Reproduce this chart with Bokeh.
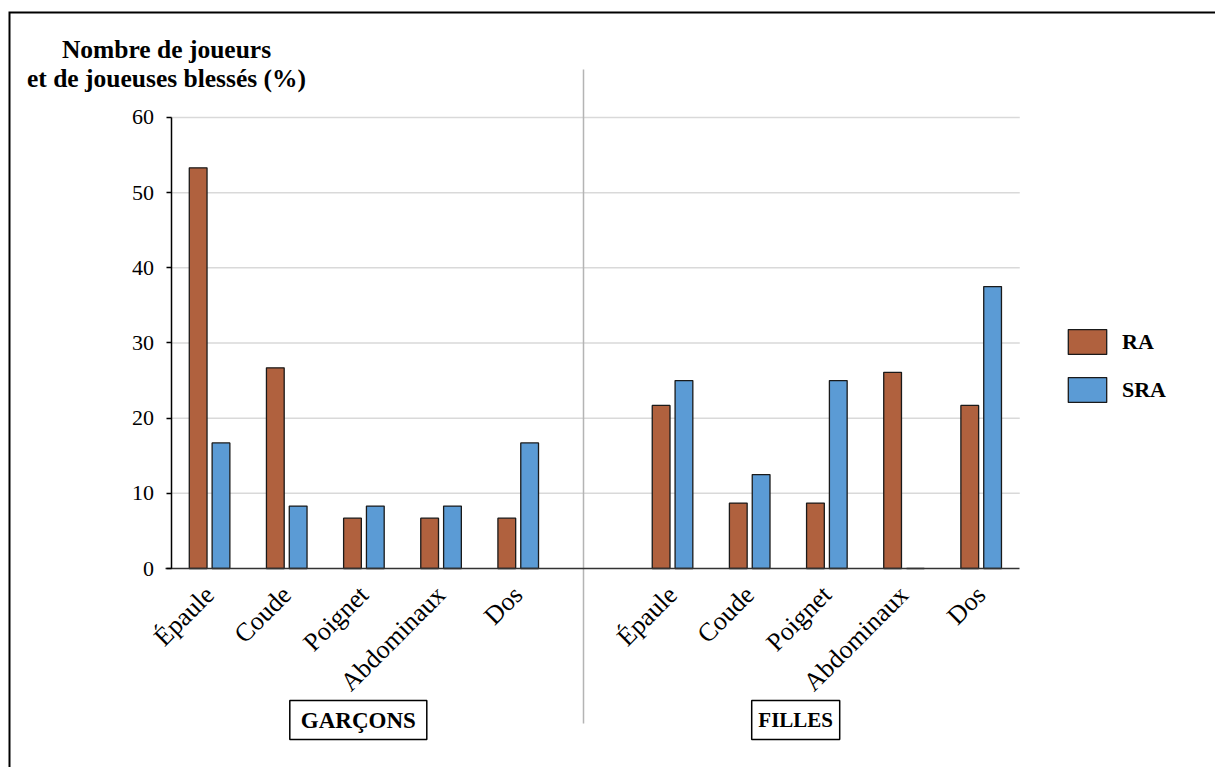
import numpy as np
from bokeh.plotting import figure
from bokeh.models import (Range1d, LinearAxis, FixedTicker, Legend,
                          LegendItem, ColumnDataSource)
from bokeh.core.properties import value
from bokeh.embed import file_html
from bokeh.resources import INLINE

# ---------------- data ----------------
groups = ["GARÇONS", "FILLES"]
parts = ["Épaule", "Coude", "Poignet", "Abdominaux", "Dos"]
series = ["RA", "SRA"]
ra_garcons = [53.3, 26.7, 6.7, 6.7, 6.7]
sra_garcons = [16.7, 8.3, 8.3, 8.3, 16.7]
ra_filles = [21.7, 8.7, 8.7, 26.1, 21.7]
sra_filles = [25.0, 12.5, 25.0, 0.0, 37.5]
y_ticks = [0, 10, 20, 30, 40, 50, 60]
title_lines = ["Nombre de joueurs", "et de joueuses blessés (%)"]

# ---------------- layout ----------------
ORG = 0                # page offset of the canvas
W, H = 1215, 767
PXU = 77.16            # px per category slot
PYU = 7.517            # px per percent
PX0 = 170.5 + 0.5 * PXU - ORG   # canvas px of slot 0 centre
PY0 = 568 - ORG                 # canvas px of y = 0

def dx(page_x):
    return (page_x - ORG - PX0) / PXU

def dy(page_y):
    return (PY0 - (page_y - ORG)) / PYU

FONT = value("Liberation Serif")
colors = ["#B0613E", "#5B9BD5"]

p = figure(width=W, height=H,
           x_range=Range1d(-PX0 / PXU, (W - PX0) / PXU),
           y_range=Range1d(-(H - PY0) / PYU, PY0 / PYU),
           output_backend="svg", toolbar_location=None,
           x_axis_type=None, y_axis_type=None,
           min_border=0, outline_line_color=None)
p.background_fill_color = "white"
p.border_fill_color = "white"

# category slots: garçons 0..4, gap at 5, filles 6..10
slots = list(range(0, 5)) + list(range(6, 11))
labels = parts + parts
ra_vals = ra_garcons + ra_filles
sra_vals = sra_garcons + sra_filles

# page border (top and left visible, right/bottom off the page)
p.quad(left=[dx(9)], right=[dx(1300)], top=[dy(12)], bottom=[dy(850)],
       fill_color=None, line_color="black", line_width=2, line_join="miter")

# gridlines
grid_y = y_ticks[1:]
p.segment(x0=[-0.5] * len(grid_y), x1=[10.5] * len(grid_y), y0=grid_y, y1=grid_y,
          line_color="#d9d9d9", line_width=1.5)

# divider between groups
p.segment(x0=[dx(583)], x1=[dx(583)], y0=[dy(69)], y1=[dy(723)],
          line_color="#b4b4b4", line_width=1.5)

off, bw = 0.148, 0.23
src = ColumnDataSource(dict(x_ra=[s - off for s in slots], x_sra=[s + off for s in slots],
                            ra=ra_vals, sra=sra_vals))
r1 = p.vbar(x="x_ra", top="ra", width=bw, source=src, fill_color=colors[0],
            line_color="#1a1a1a", line_width=1.3)
r2 = p.vbar(x="x_sra", top="sra", width=bw, source=src, fill_color=colors[1],
            line_color="#1a1a1a", line_width=1.3)

# y axis
yaxis = LinearAxis(fixed_location=-0.5, bounds=(0, 60),
                   ticker=FixedTicker(ticks=y_ticks))
yaxis.axis_line_color = "black"
yaxis.axis_line_width = 1.5
yaxis.major_tick_line_color = "black"
yaxis.major_tick_line_width = 1.3
yaxis.major_tick_out = 5
yaxis.major_tick_in = 0
yaxis.minor_tick_line_color = None
yaxis.major_label_standoff = 12
yaxis.major_label_text_font = "Liberation Serif"
yaxis.major_label_text_font_size = "22px"
yaxis.major_label_text_color = "black"
p.add_layout(yaxis, "left")

# x axis
xaxis = LinearAxis(fixed_location=0, bounds=(dx(165), 10.5),
                   ticker=FixedTicker(ticks=slots),
                   major_label_overrides={s: l for s, l in zip(slots, labels)})
xaxis.axis_line_color = "#333333"
xaxis.axis_line_width = 1.5
xaxis.major_tick_line_color = None
xaxis.minor_tick_line_color = None
xaxis.major_label_orientation = np.pi / 4
xaxis.major_label_standoff = 16
xaxis.major_label_text_font = "Liberation Serif"
xaxis.major_label_text_font_size = "26px"
xaxis.major_label_text_color = "black"
p.add_layout(xaxis, "below")

# y title
p.text(x=[dx(166)] * 2, y=[dy(48.5), dy(77.5)], text=title_lines,
       text_align="center", text_baseline="alphabetic", text_font=FONT,
       text_font_style="bold", text_font_size="25.5px", text_color="black")

# group boxes
gsrc = ColumnDataSource(dict(x=[dx(357.8), dx(795.2)], y=[dy(719.5)] * 2,
                             w=[137, 88], t=groups, fs=["23px", "21px"]))
p.rect(x="x", y="y", width="w", height=39, width_units="screen", height_units="screen",
       source=gsrc, fill_color="white", line_color="black", line_width=1.5)
p.text(x="x", y="y", text="t", source=gsrc, text_align="center", text_baseline="middle",
       text_font=FONT, text_font_style="bold", text_font_size="fs", text_color="black")

# legend
legend = Legend(items=[LegendItem(label=series[0], renderers=[r1]),
                       LegendItem(label=series[1], renderers=[r2])],
                location=(1063 - ORG, H - (405 - ORG)))
legend.glyph_width = 48
legend.glyph_height = 31
legend.label_height = 31
legend.spacing = 17
legend.label_standoff = 11
legend.padding = 0
legend.margin = 0
legend.border_line_color = None
legend.background_fill_alpha = 0
legend.label_text_font = "Liberation Serif"
legend.label_text_font_style = "bold"
legend.label_text_font_size = "22px"
legend.label_text_color = "black"
p.add_layout(legend)

open("out.html", "w").write(file_html(p, INLINE))
